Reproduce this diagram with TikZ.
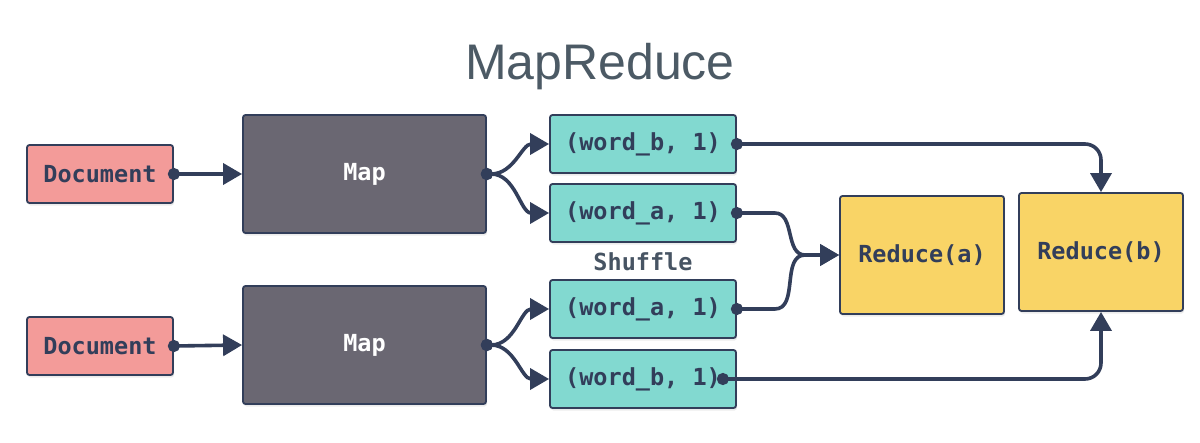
\documentclass[tikz,border=0pt]{standalone}
\usepackage{fontspec}
\setmainfont{Liberation Sans}
\setmonofont{DejaVu Sans Mono}
\usepackage{tikz}
\usetikzlibrary{arrows.meta, shadows}
\definecolor{ink}{HTML}{323E5A}
\definecolor{docred}{HTML}{F39B99}
\definecolor{mapgray}{HTML}{6A6772}
\definecolor{pairteal}{HTML}{82D9D0}
\definecolor{redyellow}{HTML}{F9D466}
\definecolor{titlegray}{HTML}{4C5A65}
\tikzset{
    box/.style={draw=ink,line width=1.8pt,rounded corners=2.5pt,text=ink,
        font=\fontsize{23.5}{26}\selectfont\ttfamily\bfseries,
        drop shadow={shadow xshift=1pt,shadow yshift=-2.5pt,opacity=0.15}},
    docnode/.style={box,fill=docred,minimum width=146pt,minimum height=58pt},
    mapnode/.style={box,fill=mapgray,text=white,minimum width=243pt,minimum height=118pt},
    pairnode/.style={box,fill=pairteal,minimum width=186pt,minimum height=58pt},
    rednode/.style={box,fill=redyellow,minimum width=164pt,minimum height=118pt},
    tt/.style={text=titlegray!80!ink,font=\fontsize{23.5}{26}\selectfont\ttfamily\bfseries},
    link/.style={draw=ink,line width=3.6pt,
        {Circle[length=12pt]}-{Triangle[length=19pt,width=21pt]},shorten <=-6pt},
}

\begin{document}
\begin{tikzpicture}[x=1pt,y=-1pt]
\useasboundingbox (0,0) rectangle (1200,442);
\node[text=titlegray,font=\fontsize{50}{54}\selectfont] (title) at (600,67) {MapReduce};
\node[docnode] (doc1) at (100,174) {Document};
\node[docnode] (doc2) at (100,346) {Document};
\node[mapnode] (map1) at (364.5,174) {Map};
\node[mapnode] (map2) at (364.5,345) {Map};
\node[pairnode] (wb1) at (643,144) {(word\_b, 1)};
\node[pairnode] (wa1) at (643,213) {(word\_a, 1)};
\node[tt] (shuffle) at (643,262) {Shuffle};
\node[pairnode] (wa2) at (643,309) {(word\_a, 1)};
\node[pairnode] (wb2) at (643,379) {(word\_b, 1)};
\node[rednode] (ra) at (922,255) {Reduce(a)};
\node[rednode] (rb) at (1101,252) {Reduce(b)};
% map phase
\draw[link] (doc1.east) -- (map1.west);
\draw[link] (doc2.east) -- (map2.west);
\draw[link] (map1.east) to[out=0,in=180] (wb1.west);
\draw[link] (map1.east) to[out=0,in=180] (wa1.west);
\draw[link] (map2.east) to[out=0,in=180] (wa2.west);
\draw[link] (map2.east) to[out=0,in=180] (wb2.west);
% shuffle to reducers
\draw[link] (wa1.east) -- ++(38,0) to[out=0,in=180] ([xshift=-34pt]ra.west) -- (ra.west);
\draw[link] (wa2.east) -- ++(38,0) to[out=0,in=180] ([xshift=-34pt]ra.west) -- (ra.west);
\draw[link,rounded corners=16pt] (wb1.east) -| (rb.north);
\draw[link,rounded corners=16pt] ([xshift=-14pt]wb2.east) -| (rb.south);
\end{tikzpicture}
\end{document}
